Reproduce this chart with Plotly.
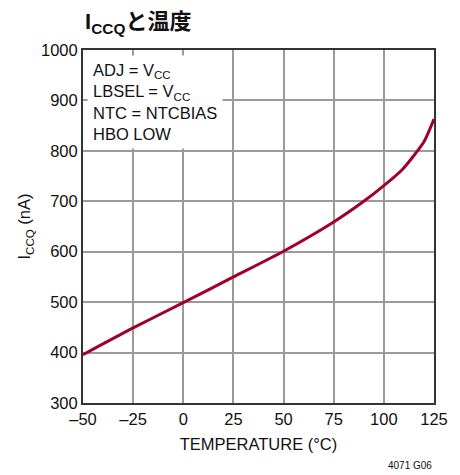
import plotly.graph_objects as go

# Quiescent current versus temperature
temperature_c = [-50, -25, 0, 25, 50, 75, 90, 100, 109, 120, 125]
iccq_na = [396, 449, 499, 550, 601, 659, 700, 731, 762, 818, 863]

x_ticks = [-50, -25, 0, 25, 50, 75, 100, 125]
x_tick_text = ["–50", "–25", "0", "25", "50", "75", "100", "125"]
y_ticks = [300, 400, 500, 600, 700, 800, 900, 1000]

conditions = ["ADJ = V<sub>CC</sub>", "LBSEL = V<sub>CC</sub>", "NTC = NTCBIAS", "HBO LOW"]

FONT = "Liberation Sans, Arial, Helvetica, sans-serif"
TITLE_FONT = "Liberation Sans, Noto Sans CJK JP, sans-serif"
CURVE = "#a0002a"
GRID = "#9a9a9a"
FRAME = "#333333"
TXT = "#111111"
SIZE = 16.5

fig = go.Figure()
fig.add_trace(go.Scatter(
    x=temperature_c, y=iccq_na, mode="lines",
    line=dict(color=CURVE, width=3, shape="spline", smoothing=0.6),
    showlegend=False, hoverinfo="skip",
))

axis_common = dict(
    showgrid=True, gridcolor=GRID, gridwidth=1.5,
    showline=True, linecolor=FRAME, linewidth=2, mirror=True,
    ticks="", zeroline=False,
    tickfont=dict(family=FONT, size=SIZE, color=TXT),
)

fig.update_xaxes(
    range=[-50, 125], tickvals=x_ticks, ticktext=x_tick_text,
    title=dict(text="TEMPERATURE (°C)", font=dict(family=FONT, size=SIZE, color=TXT), standoff=12),
    **axis_common,
)
fig.update_yaxes(
    range=[300, 1000], tickvals=y_ticks,
    title=dict(text="I<sub>CCQ</sub> (nA)", font=dict(family=FONT, size=SIZE, color=TXT), standoff=6),
    **axis_common,
)

fig.add_annotation(
    xref="x", yref="y", x=-50, y=1000, xanchor="left", yanchor="top",
    xshift=4, yshift=-5,
    text="<br>".join(conditions), align="left", showarrow=False,
    bgcolor="white", borderpad=5,
    font=dict(family=FONT, size=SIZE, color=TXT),
)

fig.add_annotation(
    xref="paper", yref="paper", x=1.0, y=-0.176, xanchor="right", yanchor="middle",
    text="4071 G06", showarrow=False,
    font=dict(family=FONT, size=10, color=TXT),
)

fig.update_layout(
    width=460, height=475,
    margin=dict(l=83, r=26, t=50, b=72),
    paper_bgcolor="white", plot_bgcolor="white",
    title=dict(
        text="<b>I<sub>CCQ</sub>と温度</b>", x=0.185, xanchor="left", y=0.955, yanchor="middle",
        font=dict(family=TITLE_FONT, size=22, color=TXT),
    ),
)

fig.write_html("out.html")
